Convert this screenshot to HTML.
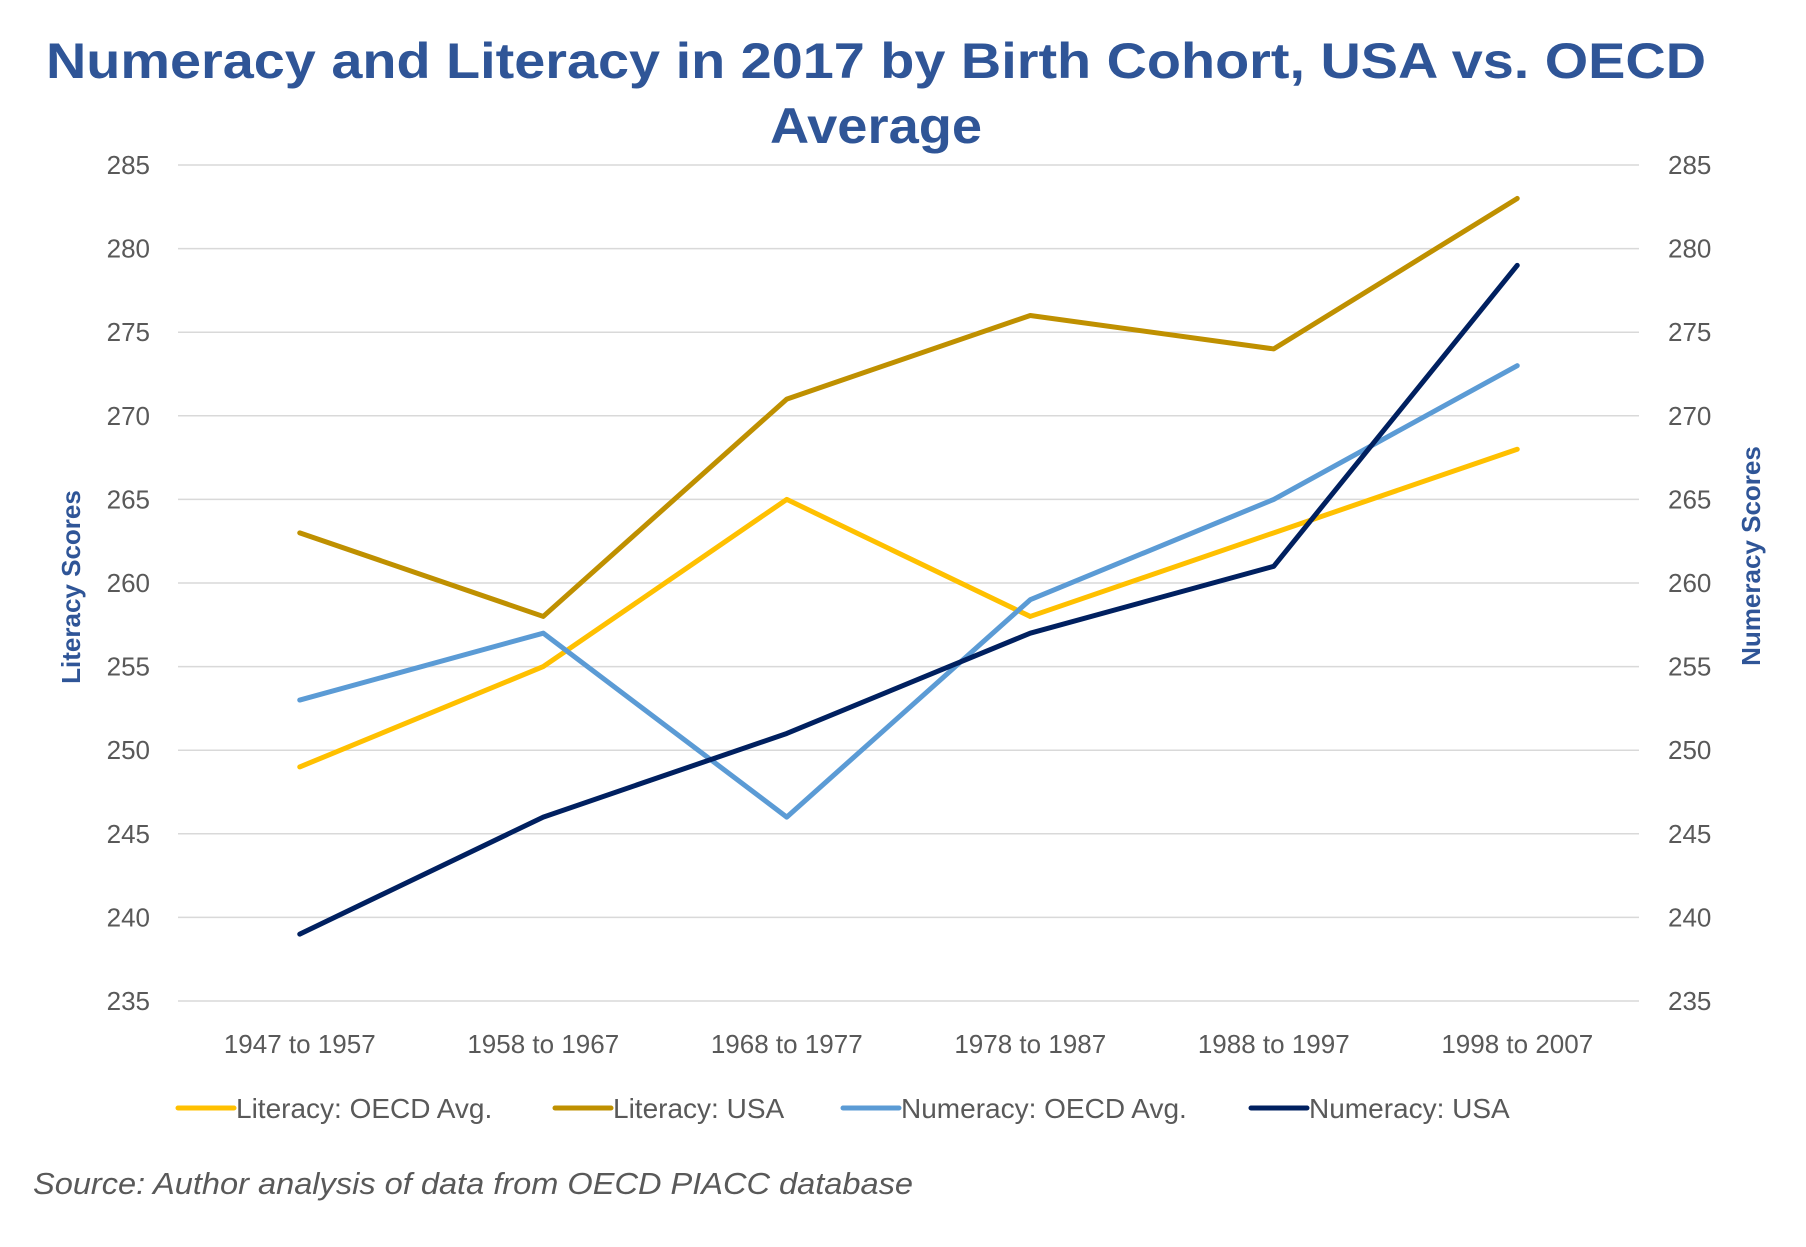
<!DOCTYPE html>
<html><head><meta charset="utf-8"><style>
html,body{margin:0;padding:0;background:#fff;}
body{width:1806px;height:1242px;overflow:hidden;font-family:"Liberation Sans",sans-serif;}
</style></head><body>
<svg id="chart" width="1806" height="1242" xmlns="http://www.w3.org/2000/svg" font-family="Liberation Sans, sans-serif">
<text x="876" y="78" text-anchor="middle" font-size="50" font-weight="bold" fill="#2F5597" textLength="1660" lengthAdjust="spacingAndGlyphs">Numeracy and Literacy in 2017 by Birth Cohort, USA vs. OECD</text>
<text x="876" y="143" text-anchor="middle" font-size="50" font-weight="bold" fill="#2F5597" textLength="212" lengthAdjust="spacingAndGlyphs">Average</text>
<g id="grid"></g><g id="lines"></g><g id="labels"></g>
<text transform="translate(80,587) rotate(-90)" text-anchor="middle" font-size="26" font-weight="bold" fill="#2F5597">Literacy Scores</text>
<text transform="translate(1760,556) rotate(-90)" text-anchor="middle" font-size="26" font-weight="bold" fill="#2F5597">Numeracy Scores</text>
<g id="legend"></g>
<text x="33" y="1194" font-size="31" font-style="italic" fill="#595959" textLength="880" lengthAdjust="spacingAndGlyphs">Source: Author analysis of data from OECD PIACC database</text>
</svg>
<script>
const categories = ["1947 to 1957","1958 to 1967","1968 to 1977","1978 to 1987","1988 to 1997","1998 to 2007"];
const literacyOecd = [249,255,265,258,263,268];
const literacyUsa = [263,258,271,276,274,283];
const numeracyOecd = [253,257,246,259,265,273];
const numeracyUsa = [239,246,251,257,261,279];
const yTicks = [235,240,245,250,255,260,265,270,275,280,285];
const seriesNames = ["Literacy: OECD Avg.","Literacy: USA","Numeracy: OECD Avg.","Numeracy: USA"];

const NS="http://www.w3.org/2000/svg";
const L=178,R=1639,T=165,B=1001,yMin=235,yMax=285;
const y=v=>B-(v-yMin)/(yMax-yMin)*(B-T);
const x=i=>L+(i+0.5)*(R-L)/categories.length;
function mk(tag,attrs,parent){const e=document.createElementNS(NS,tag);for(const k in attrs)e.setAttribute(k,attrs[k]);parent.appendChild(e);return e;}
const grid=document.getElementById('grid'),labels=document.getElementById('labels'),lines=document.getElementById('lines'),legend=document.getElementById('legend');
yTicks.forEach(t=>{
  const g=mk('line',{x1:L,x2:R,y1:y(t),y2:y(t),stroke:'#d9d9d9','stroke-width':1.5},grid);
  
  
  const a=mk('text',{x:150,y:y(t)+9,'text-anchor':'end','font-size':26,fill:'#595959'},labels);
  a.textContent=t;
  
  
  const b=mk('text',{x:1668,y:y(t)+9,'font-size':26,fill:'#595959'},labels);
  b.textContent=t;
  
  
});
categories.forEach((c,i)=>{
  const t=mk('text',{x:x(i),y:1062-9,'text-anchor':'middle','font-size':26,fill:'#595959'},labels);
  t.textContent=c;
  
  
});
const series=[literacyOecd,literacyUsa,numeracyOecd,numeracyUsa];
const colors=["#FFC000","#BF9000","#5B9BD5","#002060"];
const keys=["literacy-oecd-line","literacy-usa-line","numeracy-oecd-line","numeracy-usa-line"];
series.forEach((s,k)=>{
  const p=mk('polyline',{points:s.map((v,i)=>x(i)+','+y(v)).join(' '),fill:'none',stroke:colors[k],'stroke-width':5,'stroke-linejoin':'round','stroke-linecap':'round'},lines);
  
  
});
const legX=[178,555,843,1251];
seriesNames.forEach((n,k)=>{
  const ln=mk('line',{x1:legX[k],x2:legX[k]+56,y1:1108,y2:1108,stroke:colors[k],'stroke-width':5,'stroke-linecap':'round'},legend);
  
  
  const t=mk('text',{x:legX[k]+58,y:1118,'font-size':28,fill:'#595959'},legend);
  t.textContent=n;
  
  
});
</script>
</body></html>
